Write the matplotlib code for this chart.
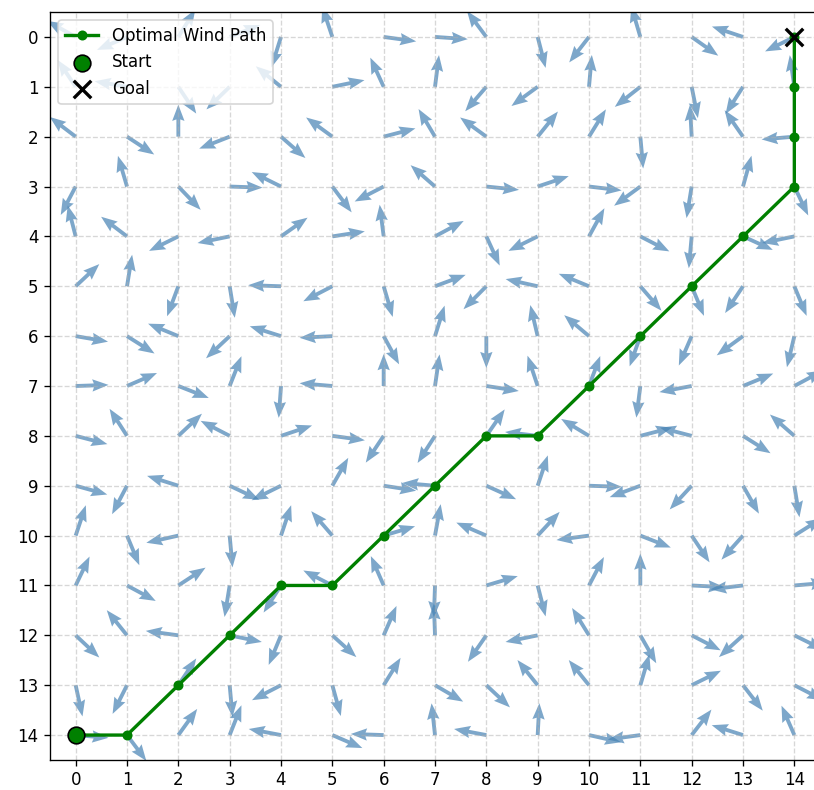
import numpy as np
import matplotlib.pyplot as plt

grid_size = 15
arrow_len = 0.64

# wind direction at each cell, degrees counter-clockwise from east (screen up = 90)
wind_angle = np.array([
    [150, 204, 59, 22, 253, 108, -8, -4, 126, -76, 233, 106, -36, 161, 207],
    [123, 170, -57, 225, 140, 12, 114, 83, 230, 217, 85, 219, 281, 238, 98],
    [142, -34, 90, 202, -42, 143, 15, 120, 143, 52, 59, 275, 93, 124, 185],
    [243, 106, -47, -2, 153, -54, 208, 138, -6, 19, -7, 217, 261, 75, -65],
    [104, 142, 207, 192, 36, 9, 97, 29, 294, 207, 62, -28, 265, -25, 192],
    [44, 81, 250, 279, 178, 208, 286, 21, 226, 167, 157, -50, -68, 237, -68],
    [-10, -33, 157, 224, 162, 183, -62, 73, 270, 103, 139, 251, 247, 217, 257],
    [2, 24, -22, 69, 266, 175, 90, 82, -9, 108, 70, 263, 191, 23, 29],
    [-15, 122, 44, 152, 19, -8, 237, 238, 56, 173, 148, 15, 165, -33, 138],
    [-16, 243, 162, -26, 207, 61, -9, 175, -25, 72, -2, 201, 228, -61, -81],
    [72, -68, 193, 275, 72, 130, 17, 80, 156, 48, 188, -22, -57, 229, 33],
    [65, -29, 34, 261, 238, 152, 113, 268, 17, -76, 63, 90, -3, 187, 5],
    [-44, 128, 172, -12, 248, -43, 67, 92, 236, 192, 121, -61, -28, 223, -27],
    [-78, 244, 57, -85, 208, -75, 59, -31, -44, 128, 128, 74, 27, -53, -28],
    [-5, -54, 55, 69, 169, -24, 178, 96, 169, 87, -13, 188, 53, 162, 113],
])

path_cols = [0, 1, 2, 3, 4, 5, 6, 7, 8, 9, 10, 11, 12, 13, 14, 14, 14, 14]
path_rows = [14, 14, 13, 12, 11, 11, 10, 9, 8, 8, 7, 6, 5, 4, 3, 2, 1, 0]
start = (0, 14)
goal = (14, 0)

X, Y = np.meshgrid(np.arange(grid_size), np.arange(grid_size))
theta = np.deg2rad(wind_angle)
U = arrow_len * np.cos(theta)
V = -arrow_len * np.sin(theta)  # y axis is inverted

fig = plt.figure(figsize=(814 / 120, 790 / 120), dpi=120)
ax = fig.add_axes([50 / 814, 30 / 790, 770 / 814, 748 / 790])

ax.quiver(X, Y, U, V, angles='xy', scale_units='xy', scale=1,
          color='steelblue', alpha=0.7, width=0.005,
          headwidth=3.2, headlength=4.2, headaxislength=3.8, zorder=1)

ax.plot(path_cols, path_rows, 'g-o', linewidth=2, markersize=5,
        label='Optimal Wind Path', zorder=3)
ax.scatter(*start, s=100, c='green', edgecolors='black', label='Start', zorder=4)
ax.scatter(*goal, s=110, c='black', marker='x', linewidths=2, label='Goal', zorder=4)

ax.set_xticks(range(grid_size))
ax.set_yticks(range(grid_size))
ax.tick_params(axis='x', pad=3)
ax.set_xlim(-0.5, grid_size - 0.5)
ax.set_ylim(grid_size - 0.5, -0.5)
ax.grid(True, linestyle='--', alpha=0.5)
ax.legend(loc='upper left')

fig.savefig('out.png', dpi=120)
